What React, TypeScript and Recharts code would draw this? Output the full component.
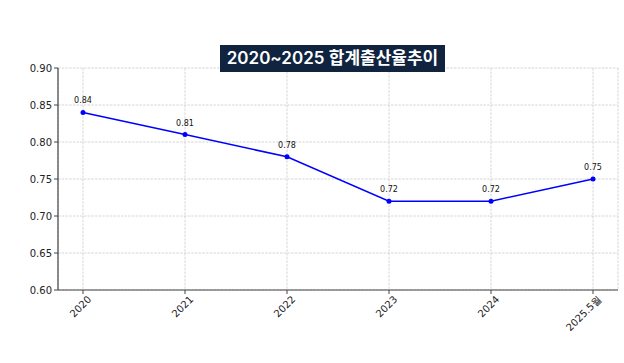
import React from 'react';
import { LineChart, Line, XAxis, YAxis, CartesianGrid, LabelList } from 'recharts';

const categories = ['2020', '2021', '2022', '2023', '2024', '2025.5월'];
const rates = [0.84, 0.81, 0.78, 0.72, 0.72, 0.75];
const yTicks = [0.6, 0.65, 0.7, 0.75, 0.8, 0.85, 0.9];
const title = '2020~2025 합계출산율추이';

const data = categories.map((c, i) => ({ year: c, rate: rates[i] }));

const FONT = "'DejaVu Sans', 'Liberation Sans', sans-serif";

const XTick = (props: any) => {
  const { x, y, payload } = props;
  const px = x + 9;
  const py = y + 4;
  return (
    <text
      x={px}
      y={py}
      transform={`rotate(-45, ${px}, ${py})`}
      textAnchor="end"
      fontSize={10}
      fontFamily={FONT}
      fill="#222"
    >
      {payload.value}
    </text>
  );
};

const DataLabel = (props: any) => {
  const { x, y, value } = props;
  return (
    <text x={x} y={y - 9} textAnchor="middle" fontSize={8} fontFamily={FONT} fill="#111">
      {Number(value).toFixed(2)}
    </text>
  );
};

export default function App() {
  return (
    <div style={{ position: 'absolute', left: 0, top: 0, width: 624, height: 363, background: '#fff' }}>
      <LineChart
        width={624}
        height={363}
        data={data}
        margin={{ top: 68, right: 6, bottom: 0, left: 0 }}
      >
        <CartesianGrid stroke="#cccccc" strokeDasharray="2.5 1.2" strokeWidth={0.8} />
        <XAxis
          dataKey="year"
          padding={{ left: 25, right: 25 }}
          height={73}
          tickSize={4}
          tickLine={{ stroke: '#444' }}
          axisLine={{ stroke: '#444', strokeWidth: 1.2 }}
          tick={<XTick />}
          interval={0}
        />
        <YAxis
          domain={[0.6, 0.9]}
          ticks={yTicks}
          width={58}
          tickSize={4}
          tickLine={{ stroke: '#444' }}
          axisLine={{ stroke: '#444', strokeWidth: 1.2 }}
          tickFormatter={(v: number) => v.toFixed(2)}
          tick={{ fontSize: 10, fontFamily: FONT, fill: '#222' }}
          allowDataOverflow
        />
        <Line
          type="linear"
          dataKey="rate"
          stroke="#0000ff"
          strokeWidth={1.5}
          dot={{ r: 2.5, fill: '#0000ff', stroke: '#0000ff', strokeWidth: 0 }}
          isAnimationActive={false}
        >
          <LabelList dataKey="rate" content={<DataLabel />} />
        </Line>
      </LineChart>
      <div
        style={{
          position: 'absolute',
          left: 220,
          top: 45,
          width: 225,
          height: 27,
          background: '#10243f',
          color: '#fff',
          fontFamily: "Inter, 'Noto Sans CJK KR', sans-serif",
          fontWeight: 600,
          fontSize: 17,
          lineHeight: '27px',
          textAlign: 'center',
          whiteSpace: 'nowrap',
        }}
      >
        {title}
      </div>
    </div>
  );
}
